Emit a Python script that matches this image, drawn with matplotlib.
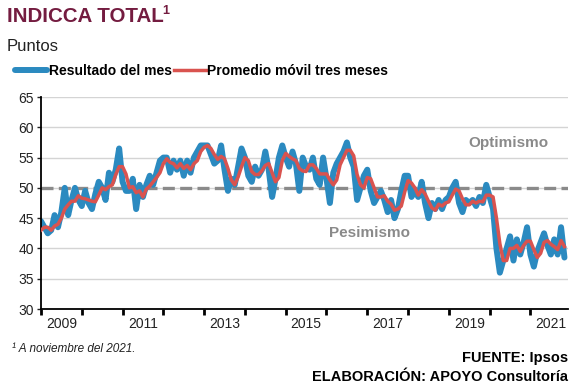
import numpy as np
import matplotlib
matplotlib.use("Agg")
import matplotlib.pyplot as plt
from matplotlib.ticker import FixedLocator, NullFormatter

plt.rcParams["font.family"] = ["Liberation Sans", "DejaVu Sans"]

BLUE, RED, GRAY, TITLE = "#2b8ac0", "#d9534f", "#8a8a8a", "#741c40"

# monthly data, Jan 2009 - Nov 2021
resultado = [
    44.5, 43.5, 42.5, 43, 45.5, 43.5, 46, 50, 45.5, 48, 50, 48,          # 2009
    47, 49.5, 47.5, 46.5, 49, 51, 50, 48, 52.5, 51, 53, 56.5,            # 2010
    51, 49.5, 49.5, 51.5, 46.5, 50.5, 48.5, 50.5, 52, 50.5, 52.5, 54.5,  # 2011
    55, 55, 52.5, 54.5, 53, 54.5, 52, 54.5, 52.5, 55, 56, 57,            # 2012
    57, 57, 55.5, 54, 54.5, 57, 53, 49.5, 51.5, 50.5, 53.5, 56.5,        # 2013
    55, 52, 51, 53.5, 52, 53, 56, 53, 48.5, 51.5, 55, 57,                # 2014
    55, 53.5, 56, 54, 49.5, 55, 53.5, 53, 55, 51.5, 50.5, 55,            # 2015
    51.5, 47.5, 52.5, 54, 55, 56, 57.5, 55, 53.5, 48, 50, 52,            # 2016
    53, 49.5, 47.5, 48.5, 49.5, 48, 46, 48, 45, 46.5, 49.5, 52,          # 2017
    52, 48.5, 49.5, 48.5, 51, 47.5, 45, 47.5, 46.5, 48, 46.5, 48,        # 2018
    48.5, 50, 51, 47.5, 46, 48, 47.5, 48, 47, 48.5, 47.5, 50.5,          # 2019
    48.5, 46.5, 40, 36, 38, 40, 42, 38, 41.5, 39, 41, 43.5,              # 2020
    39, 37, 39.5, 41, 42.5, 40.5, 39, 41.5, 39, 43.5, 38.5,              # 2021
]
promedio = [
    43.0, 43.5, 43.5, 43.0, 43.7, 44.0, 45.0, 46.5, 47.2, 47.8, 47.8, 48.7,
    48.3, 48.2, 48.0, 47.8, 47.7, 48.8, 50.0, 49.7, 50.2, 50.5, 52.2, 53.5,
    53.5, 52.3, 50.0, 50.2, 49.2, 49.5, 48.5, 49.8, 50.3, 51.0, 51.7, 52.5,
    54.0, 54.8, 54.2, 54.0, 53.3, 54.0, 53.2, 53.7, 53.0, 54.0, 54.5, 56.0,
    56.7, 57.0, 56.5, 55.5, 54.7, 55.2, 54.8, 53.2, 51.3, 50.5, 51.8, 53.5,
    55.0, 54.5, 52.7, 52.2, 52.2, 52.8, 53.7, 54.0, 52.5, 51.0, 51.7, 54.5,
    55.7, 55.2, 54.8, 54.5, 53.2, 52.8, 52.7, 53.8, 53.8, 53.2, 52.3, 52.3,
    52.3, 51.3, 50.5, 51.3, 53.8, 55.0, 56.2, 56.2, 55.3, 52.2, 50.5, 50.0,
    51.7, 51.5, 50.0, 48.5, 48.5, 48.7, 47.8, 47.3, 46.3, 46.5, 47.0, 49.3,
    51.2, 50.8, 50.0, 48.8, 49.7, 49.0, 47.8, 46.7, 46.3, 47.3, 47.0, 47.5,
    47.7, 48.8, 49.8, 49.5, 48.2, 47.2, 47.2, 47.8, 47.5, 47.8, 47.7, 48.8,
    48.8, 48.5, 45.0, 40.8, 38.0, 38.0, 40.0, 40.0, 40.5, 39.5, 40.5, 41.2,
    41.2, 39.8, 38.5, 39.2, 41.0, 41.3, 40.7, 40.3, 39.8, 41.3, 40.3,
]
start_year = 2009
year_labels = ["2009", "2011", "2013", "2015", "2017", "2019", "2021"]
yticks = [30, 35, 40, 45, 50, 55, 60, 65]
umbral = 50

x = start_year + np.arange(len(resultado)) / 12.0

fig = plt.figure(figsize=(5.82, 3.91), dpi=100)
ax = fig.add_axes([0.0704, 0.2097, 0.9055, 0.5422])

for v in yticks:
    ax.axhline(v, color="#d4d4d4", lw=1.0, zorder=0)
ax.axhline(umbral, color=GRAY, lw=2.4, ls=(0, (3.6, 1.6)), zorder=1)
lb, = ax.plot(x, resultado, color=BLUE, lw=4.3, solid_joinstyle="round", solid_capstyle="round", zorder=2)
lr, = ax.plot(x, promedio, color=RED, lw=2.5, solid_joinstyle="round", zorder=3)

ax.set_ylim(30, 65)
ax.set_xlim(start_year, start_year + 12.92)
ax.set_yticks(yticks)
ax.tick_params(axis="y", labelsize=10, length=3, width=1, pad=2, colors="#222222")
ax.xaxis.set_major_locator(FixedLocator(np.arange(start_year, 2022)))
ax.xaxis.set_major_formatter(NullFormatter())
ax.xaxis.set_minor_locator(FixedLocator([int(y) + 0.5 for y in year_labels]))
ax.set_xticklabels(year_labels, minor=True)
ax.tick_params(axis="x", which="major", length=4, width=2, direction="out", color="black")
ax.tick_params(axis="x", which="minor", length=0, labelsize=10, pad=6, labelcolor="#222222")
for s in ("top", "right"):
    ax.spines[s].set_visible(False)
for s in ("left", "bottom"):
    ax.spines[s].set_linewidth(1.3)

ax.text(2020.45, 57.4, "Optimismo", color=GRAY, fontsize=11, weight="bold", ha="center", va="center")
ax.text(2017.05, 42.6, "Pesimismo", color=GRAY, fontsize=11, weight="bold", ha="center", va="center")

fig.text(0.012, 0.958, "INDICCA TOTAL", fontsize=14.8, weight="bold", color=TITLE, va="center")
fig.text(0.279, 0.972, "1", fontsize=9, weight="bold", color=TITLE, va="center")
fig.text(0.012, 0.88, "Puntos", fontsize=12, color="#222222", va="center")
fig.legend([lb, lr], ["Resultado del mes", "Promedio móvil tres meses"],
           loc="center left", bbox_to_anchor=(0.012, 0.818), ncol=2, frameon=False,
           handlelength=2.3, handletextpad=0.1, columnspacing=0.15, borderpad=0.1,
           prop=dict(size=10, weight="bold"))

fig.text(0.02, 0.107, "¹ A noviembre del 2021.", fontsize=8.5, style="italic", color="#222222", va="center")
fig.text(0.976, 0.084, "FUENTE: Ipsos", fontsize=10.5, weight="bold", ha="right", va="center")
fig.text(0.976, 0.036, "ELABORACIÓN: APOYO Consultoría", fontsize=10.5, weight="bold", ha="right", va="center")

fig.savefig("out.png", dpi=100, facecolor="white")
